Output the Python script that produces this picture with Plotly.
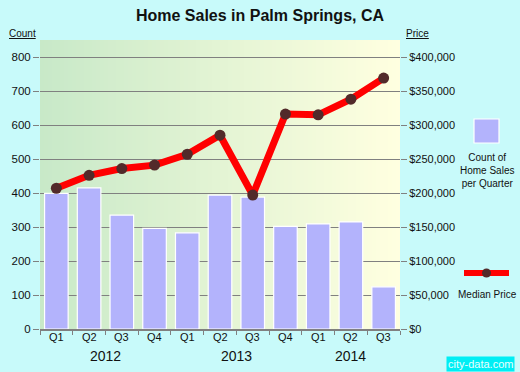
import plotly.graph_objects as go

quarters = ["Q1", "Q2", "Q3", "Q4", "Q1", "Q2", "Q3", "Q4", "Q1", "Q2", "Q3"]
years = ["2012", "2013", "2014"]
year_quarter_counts = [4, 4, 3]
sales_count = [399, 415, 335, 296, 283, 394, 388, 302, 309, 315, 124]
median_price = [207000, 226000, 236000, 241000, 257000, 285000, 197000, 316000, 315000, 338000, 369000]
price_ticks = list(range(0, 400001, 50000))
count_ticks = list(range(0, 801, 100))

x = list(range(len(quarters)))
BG = "#c8fafa"
GRID = "#808080"
FONT = "Arial"
TXT = "#111"

fig = go.Figure()
fig.add_trace(go.Bar(x=x, y=sales_count, marker=dict(color="#b3b3fc", line=dict(color="white", width=1.2)),
                     width=0.72, yaxis="y", showlegend=False, hoverinfo="y"))
fig.add_trace(go.Scatter(x=x, y=median_price, yaxis="y2", mode="lines+markers",
                         line=dict(color="#ff0000", width=7),
                         marker=dict(color="#522a2a", size=11), showlegend=False))

# gradient plot background as thin strips
n = 90
c0 = (200, 233, 200)
c1 = (255, 255, 224)
shapes = []
for i in range(n):
    t = i / (n - 1)
    col = "rgb(%d,%d,%d)" % tuple(round(a + (b - a) * t) for a, b in zip(c0, c1))
    shapes.append(dict(type="rect", xref="paper", yref="paper", x0=i / n, x1=(i + 1.6) / n if i < n - 1 else 1,
                       y0=0, y1=1, fillcolor=col, line=dict(width=0), layer="below"))

year_bounds = [-0.5]
for c in year_quarter_counts:
    year_bounds.append(year_bounds[-1] + c)
quarter_bounds = [i - 0.5 for i in range(len(quarters) + 1)]

annotations = []
for xi, q in zip(x, quarters):
    annotations.append(dict(x=xi, y=-0.028, xref="x", yref="paper", text=q, showarrow=False,
                            xanchor="center", yanchor="middle", font=dict(size=11, color=TXT, family=FONT)))
for i, yr in enumerate(years):
    annotations.append(dict(x=(year_bounds[i] + year_bounds[i + 1]) / 2, y=-0.094, xref="x", yref="paper",
                            text=yr, showarrow=False, xanchor="center", yanchor="middle",
                            font=dict(size=14, color=TXT, family=FONT)))

def px(p):
    return (p - 40) / 360

def py(p):
    return (329 - p) / 289

annotations += [
    dict(x=px(22), y=py(34), text="<u>Count</u>", font=dict(size=10, color=TXT, family=FONT)),
    dict(x=px(417), y=py(34), text="<u>Price</u>", font=dict(size=10, color=TXT, family=FONT)),
    dict(x=px(487), y=py(170), text="Count of<br>Home Sales<br>per Quarter", align="center",
         font=dict(size=10, color=TXT, family=FONT)),
    dict(x=px(487), y=py(294), text="Median Price", font=dict(size=10, color=TXT, family=FONT)),
    dict(x=px(480), y=py(364), text="city-data.com", bgcolor="#00eef4",
         font=dict(size=11, color="#e8ffff", family=FONT), borderpad=1),
]
for a in annotations[-5:]:
    a.update(xref="paper", yref="paper", showarrow=False, xanchor="center", yanchor="middle")

shapes.append(dict(type="rect", xref="paper", yref="paper", x0=px(474), x1=px(499), y0=py(143), y1=py(119),
                   fillcolor="#b3b3fc", line=dict(color="white", width=1.2)))
shapes.append(dict(type="line", xref="paper", yref="paper", x0=px(464), x1=px(509), y0=py(273), y1=py(273),
                   line=dict(color="#ff0000", width=6)))
shapes.append(dict(type="circle", xref="paper", yref="paper", x0=px(482), x1=px(491), y0=py(277.5), y1=py(268.5),
                   fillcolor="#522a2a", line=dict(width=0)))

fig.update_layout(
    width=520, height=372,
    margin=dict(l=40, r=120, t=40, b=43, autoexpand=False),
    paper_bgcolor=BG, plot_bgcolor=BG,
    title=dict(text="<b>Home Sales in Palm Springs, CA</b>", x=0.5, xanchor="center", y=1 - 15 / 372,
               yanchor="middle", font=dict(size=16, color=TXT, family=FONT)),
    font=dict(family=FONT, size=11, color=TXT),
    xaxis=dict(range=[-0.5, len(quarters) - 0.5], tickmode="array", tickvals=year_bounds,
               ticktext=[""] * len(year_bounds), ticks="outside", ticklen=7, tickcolor=GRID,
               showgrid=False, zeroline=False, showline=True, linecolor=GRID, linewidth=1.5,
               automargin=False,
               minor=dict(tickmode="array", tickvals=quarter_bounds, ticks="outside", ticklen=4,
                          tickcolor=GRID, showgrid=False)),
    yaxis=dict(range=[0, 800 * 289 / 272], tickmode="array", tickvals=count_ticks,
               ticks="outside", ticklen=6, tickcolor=GRID, showgrid=True, gridcolor=GRID, gridwidth=1.2,
               zeroline=False, showline=False, tickfont=dict(size=11.5, family=FONT, color=TXT),
               automargin=False),
    yaxis2=dict(range=[0, 400000 * 289 / 272], overlaying="y", side="right", tickmode="array",
                tickvals=price_ticks, ticktext=["${:,}".format(v) for v in price_ticks],
                ticks="outside", ticklen=6, tickcolor=GRID, showgrid=False, zeroline=False,
                showline=False, tickfont=dict(size=11, family=FONT, color=TXT), automargin=False),
    bargap=0.28,
    shapes=shapes,
    annotations=annotations,
)

fig.write_html("out.html", config={"displayModeBar": False},
               post_script="document.body.style.margin='0';document.body.style.padding='0';"
                           "document.body.style.background='%s';" % BG)
